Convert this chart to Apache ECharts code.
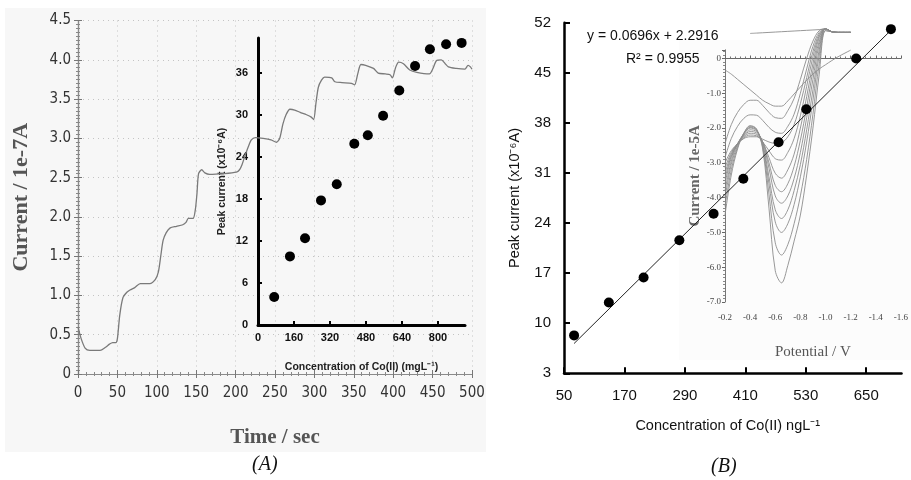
<!DOCTYPE html>
<html><head><meta charset="utf-8">
<script src="https://cdn.jsdelivr.net/npm/echarts@6/dist/echarts.min.js"></script>
<style>html,body{margin:0;padding:0;background:#fff}#c{width:911px;height:480px}</style>
</head><body><div id="c"></div>
<script>
// ---------- Panel A: amperometric response ----------
const timeA = [0,4,9,15,28,35,40,44,48,50,53,57,62,66,72,79,91,98,102,105,108,112,117,125,133,137,140,146,149,151,153,157,161,167,185,201,205,208,212,216,220,225,235,245,252,256,260,264,269,275,282,290,296,299,302,305,309,313,322,326,335,347,351,355,359,365,375,381,390,396,399,403,407,413,421,430,446,450,455,461,466,470,480,491,495,498,500];
const currentA = [0.6,0.45,0.33,0.3,0.3,0.34,0.38,0.4,0.4,0.45,0.75,0.97,1.04,1.07,1.1,1.15,1.15,1.2,1.3,1.5,1.7,1.8,1.86,1.88,1.9,1.93,1.98,1.98,2.1,2.3,2.55,2.6,2.56,2.54,2.55,2.57,2.6,2.66,2.78,2.89,2.98,3.01,3.0,2.98,2.95,3.0,3.18,3.3,3.37,3.36,3.33,3.3,3.27,3.24,3.45,3.65,3.74,3.78,3.77,3.72,3.71,3.7,3.68,3.82,3.94,3.93,3.89,3.83,3.82,3.81,3.77,3.9,3.97,3.95,3.87,3.84,3.82,3.88,3.99,4.0,3.95,3.91,3.89,3.88,3.93,3.91,3.88];
// inset of A: calibration
const concA = [72,142,209,280,350,428,488,556,628,698,764,836,905];
const peakA = [4.0,9.8,12.4,17.8,20.1,25.9,27.1,29.9,33.5,37.0,39.4,40.1,40.3];

// ---------- Panel B: calibration ----------
const concB = [70,139,208,279,347,406,476,531,630,699];
const peakB = [8.3,12.9,16.4,21.6,25.3,30.2,35.3,39.9,47.0,51.1];
const fitSlope = 0.0696, fitIntercept = 2.2916, fitR2 = '0.9955';
const fitRange = [70, 699];
// inset of B: voltammograms
const potB = [-0.2,-0.25,-0.3,-0.35,-0.4,-0.45,-0.5,-0.55,-0.6,-0.65,-0.7,-0.75,-0.8,-0.85,-0.9,-0.95,-1.0,-1.05,-1.1,-1.2];
const vTop = [null,null,null,null,0.72,0.73,0.74,0.75,0.76,0.77,0.78,0.79,0.8,0.81,0.82,0.83,0.85,0.77,0.75,0.75];
const v1  = [-0.33,-0.45,-0.6,-0.75,-0.9,-1.05,-1.2,-1.3,-1.37,-1.37,-1.22,-1.02,-0.82,-0.62,-0.45,-0.3,-0.18,-0.06,0.05,0.24];
const v2  = [-2.45,-1.9,-1.55,-1.32,-1.2,-1.2,-1.35,-1.55,-1.7,-1.72,-1.5,-1.15,-0.6,0.0,0.5,0.8,0.85,0.77,0.75,0.75];
const v3  = [-2.85,-2.3,-1.95,-1.72,-1.62,-1.63,-1.78,-1.98,-2.12,-2.15,-1.95,-1.6,-1.0,-0.3,0.35,0.75,0.85,0.77,0.75,0.75];
const v4  = [-3.0,-2.65,-2.45,-2.3,-2.25,-2.25,-2.32,-2.4,-2.44,-2.42,-2.25,-1.9,-1.3,-0.55,0.2,0.7,0.85,0.77,0.75,0.75];
const v5  = [-3.15,-2.7,-2.45,-2.28,-2.2,-2.22,-2.4,-2.65,-2.88,-2.92,-2.7,-2.3,-1.65,-0.8,0.05,0.65,0.85,0.77,0.75,0.75];
const v6  = [-3.3,-2.75,-2.45,-2.25,-2.15,-2.18,-2.4,-2.85,-3.3,-3.44,-3.2,-2.75,-2.0,-1.1,-0.15,0.6,0.85,0.77,0.75,0.75];
const v7  = [-3.45,-2.8,-2.45,-2.22,-2.1,-2.14,-2.4,-3.0,-3.65,-3.83,-3.6,-3.1,-2.35,-1.4,-0.35,0.5,0.85,0.77,0.75,0.75];
const v8  = [-3.6,-2.85,-2.45,-2.2,-2.05,-2.1,-2.4,-3.15,-3.95,-4.16,-3.95,-3.45,-2.7,-1.7,-0.6,0.4,0.85,0.77,0.75,0.75];
const v9  = [-3.8,-2.95,-2.45,-2.17,-2.0,-2.07,-2.45,-3.4,-4.35,-4.6,-4.35,-3.8,-3.05,-2.05,-0.9,0.25,0.85,0.77,0.75,0.75];
const v10 = [-4.0,-3.05,-2.5,-2.15,-1.98,-2.05,-2.5,-3.6,-4.7,-5.0,-4.75,-4.2,-3.4,-2.4,-1.2,0.1,0.85,0.77,0.75,0.75];
const v11 = [-4.25,-3.2,-2.55,-2.15,-1.95,-2.03,-2.55,-3.9,-5.3,-5.65,-5.35,-4.75,-3.95,-2.9,-1.6,-0.15,0.8,0.77,0.75,0.75];
const v12 = [-4.5,-3.35,-2.6,-2.15,-1.93,-2.02,-2.6,-4.3,-6.1,-6.45,-5.95,-5.25,-4.5,-3.35,-2.0,-0.45,0.8,0.77,0.75,0.75];
const voltammograms = [vTop,v1,v2,v3,v4,v5,v6,v7,v8,v9,v10,v11,v12];

const zip = (a,b) => a.map((v,i) => [v, b[i]]);
const narrow = "'Liberation Sans Narrow','DejaVu Sans Condensed',Arial,sans-serif";
const serif = "'Liberation Serif','Times New Roman',serif";
const sans = "'Liberation Sans',Arial,sans-serif";

const chart = echarts.init(document.getElementById('c'), null, {renderer:'canvas'});
const dotted = {show:true, lineStyle:{color:'#c4c4c4', type:[1,4], width:1}};
const grayAxis = {lineStyle:{color:'#8a8a8a', width:1.2}};

const option = {
  animation:false,
  backgroundColor:'#fff',
  grid:[
    {left:78, top:20.5, width:394, height:353.5},
    {left:258, top:38, width:207, height:287},
    {left:564, top:22.7, width:337.5, height:350.6},
    {left:725, top:49.8, width:180, height:252.2}
  ],
  xAxis:[
    {gridIndex:0, type:'value', min:0, max:500, interval:50, position:'bottom',
     axisLine:grayAxis, axisTick:{length:4, lineStyle:{color:'#777'}},
     minorTick:{show:true, splitNumber:5, length:2, lineStyle:{color:'#888'}},
     splitLine:dotted,
     axisLabel:{margin:12, color:'#333', fontSize:15, fontFamily:narrow},
     name:'Time / sec', nameLocation:'middle', nameGap:53,
     nameTextStyle:{fontFamily:serif, fontWeight:'bold', fontSize:21, color:'#555'}},
    {gridIndex:0, type:'value', min:0, max:500, interval:50, position:'top',
     axisLine:grayAxis, axisTick:{length:4, lineStyle:{color:'#777'}},
     minorTick:{show:true, splitNumber:5, length:2, lineStyle:{color:'#888'}},
     splitLine:{show:false}, axisLabel:{show:false}},
    {gridIndex:1, type:'value', min:0, max:920, interval:160, position:'bottom',
     axisLine:{lineStyle:{color:'#000', width:3}},
     axisTick:{inside:true, length:4, lineStyle:{color:'#000', width:2}},
     splitLine:{show:false},
     axisLabel:{margin:7, color:'#111', fontSize:11, fontWeight:'bold', fontFamily:sans, showMaxLabel:false},
     name:'Concentration of Co(II) (mgL⁻¹)', nameLocation:'middle', nameGap:37,
     nameTextStyle:{fontFamily:sans, fontWeight:'bold', fontSize:10.5, color:'#222'}},
    {gridIndex:2, type:'value', min:50, max:720, interval:120, position:'bottom',
     axisLine:{lineStyle:{color:'#000', width:2.5}},
     axisTick:{inside:true, length:6, lineStyle:{color:'#000', width:2}},
     splitLine:{show:false},
     axisLabel:{margin:15, color:'#111', fontSize:15, fontFamily:sans, showMaxLabel:false},
     name:'Concentration of Co(II) ngL⁻¹', nameLocation:'middle', nameGap:45,
     nameTextStyle:{fontFamily:sans, fontSize:14.5, color:'#111', padding:[0,10,0,0]}},
    {gridIndex:3, type:'value', min:-1.6, max:-0.2, interval:0.2, inverse:true, position:'bottom',
     axisLine:{lineStyle:{color:'#666', width:1}},
     axisTick:{inside:true, length:3, lineStyle:{color:'#666'}},
     minorTick:{show:true, splitNumber:5, length:2, lineStyle:{color:'#777'}},
     splitLine:{show:false},
     axisLabel:{margin:11, color:'#444', fontSize:9, fontFamily:serif, formatter:v=>(+v).toFixed(1)},
     name:'Potential / V', nameLocation:'middle', nameGap:43,
     nameTextStyle:{fontFamily:serif, fontSize:15, color:'#555'}}
  ],
  yAxis:[
    {gridIndex:0, type:'value', min:0, max:4.5, interval:0.5, position:'left',
     axisLine:grayAxis, axisTick:{length:4, lineStyle:{color:'#777'}},
     minorTick:{show:true, splitNumber:10, length:2, lineStyle:{color:'#888'}},
     splitLine:dotted,
     axisLabel:{margin:7, color:'#333', fontSize:15, fontFamily:narrow, formatter:v=>v===0?'0':v.toFixed(1)},
     name:'Current / 1e-7A', nameLocation:'middle', nameGap:46,
     nameTextStyle:{fontFamily:serif, fontWeight:'bold', fontSize:22, color:'#555'}},
    {gridIndex:0, type:'value', min:0, max:4.5, interval:0.5, position:'right',
     axisLine:grayAxis, axisTick:{length:4, lineStyle:{color:'#777'}},
     minorTick:{show:true, splitNumber:10, length:2, lineStyle:{color:'#888'}},
     splitLine:{show:false}, axisLabel:{show:false}},
    {gridIndex:1, type:'value', min:0, max:41, interval:6, position:'left',
     axisLine:{show:true, lineStyle:{color:'#000', width:3}},
     axisTick:{show:true, inside:true, length:4, lineStyle:{color:'#000', width:2}},
     splitLine:{show:false},
     axisLabel:{margin:10, color:'#111', fontSize:11, fontWeight:'bold', fontFamily:sans, showMaxLabel:false},
     name:'Peak current (x10⁻⁶A)', nameLocation:'middle', nameGap:30,
     nameTextStyle:{fontFamily:sans, fontWeight:'bold', fontSize:10.5, color:'#222'}},
    {gridIndex:2, type:'value', min:3, max:52, interval:7, position:'left',
     axisLine:{show:true, lineStyle:{color:'#000', width:2.5}},
     axisTick:{show:true, inside:true, length:6, lineStyle:{color:'#000', width:2}},
     splitLine:{show:false},
     axisLabel:{margin:13, color:'#111', fontSize:15, fontFamily:sans},
     name:'Peak current (x10⁻⁶A)', nameLocation:'middle', nameGap:42,
     nameTextStyle:{fontFamily:sans, fontSize:14.5, color:'#111'}},
    {gridIndex:3, type:'value', min:-7, max:0.25, interval:1, position:'left',
     axisLine:{show:true, lineStyle:{color:'#777', width:1}},
     axisTick:{show:true, length:3, lineStyle:{color:'#666'}},
     minorTick:{show:true, splitNumber:10, length:2, lineStyle:{color:'#888'}},
     splitLine:{show:false},
     axisLabel:{margin:4, color:'#444', fontSize:9, fontFamily:serif, showMaxLabel:false, formatter:v=>v===0?'0':(+v).toFixed(1)},
     name:'Current / 1e-5A', nameLocation:'middle', nameGap:22,
     nameTextStyle:{fontFamily:serif, fontWeight:'bold', fontSize:15, color:'#666'}}
  ],
  series:[
    {type:'line', xAxisIndex:0, yAxisIndex:0, data:zip(timeA,currentA), smooth:0.25, showSymbol:false,
     lineStyle:{color:'#7a7a7a', width:1.3}, z:3},
    {type:'scatter', xAxisIndex:2, yAxisIndex:2, data:zip(concA,peakA), symbolSize:10,
     itemStyle:{color:'#000', opacity:1}, z:5},
    ...voltammograms.map(v => ({type:'line', xAxisIndex:4, yAxisIndex:4, data:zip(potB,v), smooth:0.35,
      showSymbol:false, clip:false, connectNulls:false, lineStyle:{color:'#8c8c8c', width:0.9}, z:2})),
    {type:'line', xAxisIndex:3, yAxisIndex:3, data:fitRange.map(x=>[x, fitSlope*x+fitIntercept]),
     showSymbol:false, lineStyle:{color:'#222', width:1}, z:4},
    {type:'scatter', xAxisIndex:3, yAxisIndex:3, data:zip(concB,peakB), symbolSize:10,
     itemStyle:{color:'#000', opacity:1}, z:5}
  ],
  graphic:[
    {type:'rect', z:-100, shape:{x:5, y:8, width:481, height:444}, style:{fill:'#f7f7f7'}},
    {type:'rect', z:-100, shape:{x:679, y:40, width:232, height:320}, style:{fill:'#fcfcfc'}},
    {type:'text', left:252, top:455, style:{text:'(A)', font:'italic 20px '+serif, fill:'#111'}},
    {type:'text', left:711, top:457, style:{text:'(B)', font:'italic 20px '+serif, fill:'#111'}},
    {type:'text', left:587, top:29, style:{text:'y = '+fitSlope+'x + '+fitIntercept, font:'14px '+sans, fill:'#111'}},
    {type:'text', left:626, top:52, style:{text:'R² = '+fitR2, font:'14px '+sans, fill:'#111'}}
  ]
};
chart.setOption(option);
</script></body></html>
